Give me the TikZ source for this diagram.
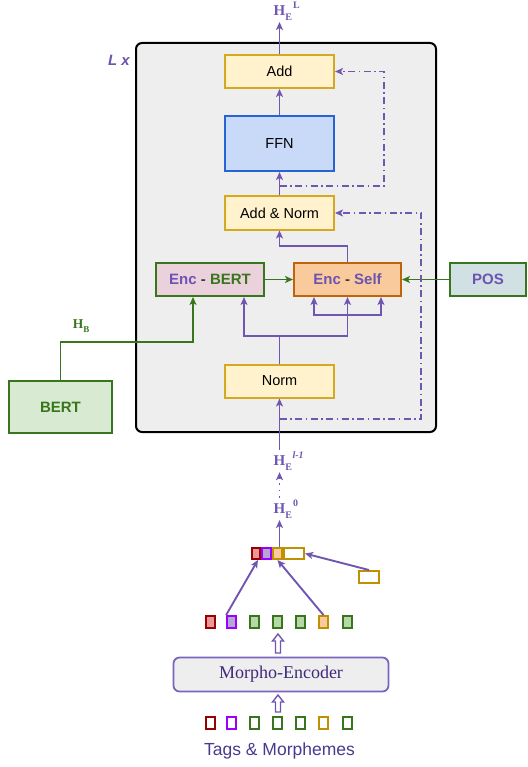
\documentclass[tikz,border=0pt]{standalone}
\usepackage{fontspec}
\setmainfont{Liberation Serif}
\setsansfont{Liberation Sans}
\usetikzlibrary{arrows.meta,calc}
\definecolor{lineP}{RGB}{112,86,176}
\definecolor{txtP}{RGB}{108,84,176}
\definecolor{grn}{RGB}{56,118,29}
\definecolor{ylwF}{RGB}{255,242,204}
\definecolor{ylwD}{RGB}{212,168,32}
\definecolor{ffnF}{RGB}{201,218,248}
\definecolor{ffnD}{RGB}{38,100,214}
\definecolor{encbF}{RGB}{234,209,220}
\definecolor{encsF}{RGB}{249,203,156}
\definecolor{encsD}{RGB}{190,100,10}
\definecolor{posF}{RGB}{208,224,227}
\definecolor{bertF}{RGB}{217,234,211}
\definecolor{bgG}{RGB}{238,238,238}
\definecolor{morphoD}{RGB}{122,100,190}
\definecolor{morphoT}{RGB}{62,42,122}
\definecolor{tagsT}{RGB}{74,58,143}
\definecolor{redF}{RGB}{234,153,153}
\definecolor{redD}{RGB}{153,0,0}
\definecolor{purF}{RGB}{180,167,214}
\definecolor{purD}{RGB}{153,0,255}
\definecolor{grnF}{RGB}{182,215,168}
\definecolor{orgF}{RGB}{249,203,156}
\definecolor{orgD}{RGB}{191,144,0}
\definecolor{darkT}{RGB}{60,60,60}
\begin{document}
\begin{tikzpicture}[x=1pt,y=-1pt,
  box/.style={draw, line width=2pt, inner sep=0pt, font=\sffamily\fontsize{14.5}{17}\selectfont, text=black},
  ylw/.style={box, fill=ylwF, draw=ylwD, minimum width=109pt, minimum height=33pt},
  bbox/.style={box, font=\sffamily\bfseries\fontsize{15}{17}\selectfont, text=txtP},
  arr/.style={-{Stealth[length=8pt,width=7pt,inset=2pt]}, line width=1.9pt, draw=lineP},
  plain/.style={line width=1.9pt, draw=lineP},
  garr/.style={arr, draw=grn},
  dd/.style={arr, dash pattern=on 7pt off 3.5pt on 1.5pt off 3.5pt},
  hlab/.style={inner sep=1.5pt, text=lineP, font=\bfseries\fontsize{15}{17}\selectfont},
  cell/.style={line width=1.8pt, inner sep=0pt, minimum height=11pt},
  sq/.style={line width=1.8pt, inner sep=0pt, minimum width=9pt, minimum height=12pt},
  hollow/.style={draw=lineP, fill=white, line width=1.4pt, line join=miter}
]
\useasboundingbox (0,0) rectangle (527,767);

% frame
\node[draw=black, line width=2pt, rounded corners=6pt, fill=bgG, minimum width=300pt, minimum height=389pt, inner sep=0pt] (frame) at (286,237.5) {};
\node[font=\sffamily\bfseries\itshape\fontsize{15}{17}\selectfont, text=txtP] (lx) at (119,60) {L x};

% boxes
\node[ylw] (add) at (279.5,71.5) {Add};
\node[box, fill=ffnF, draw=ffnD, minimum width=109pt, minimum height=55pt] (ffn) at (279.5,143.5) {FFN};
\node[ylw] (addnorm) at (279.5,213) {Add \& Norm};
\node[bbox, fill=encbF, draw=grn, minimum width=108pt, minimum height=33pt] (encb) at (210,279.5) {Enc {\color{darkT}-} {\color{grn}BERT}};
\node[bbox, fill=encsF, draw=encsD, minimum width=107pt, minimum height=33pt] (encs) at (347.5,279.5) {Enc {\color{darkT}-} Self};
\node[bbox, fill=posF, draw=grn, minimum width=76pt, minimum height=33pt] (pos) at (488,279.5) {POS};
\node[bbox, fill=bertF, draw=grn, text=grn, minimum width=103pt, minimum height=52pt] (bert) at (60.5,407) {BERT};
\node[ylw] (norm) at (279.5,381) {Norm};

% top output
\node[hlab] (heL) at (279.5,11) {H\rlap{\raisebox{-5pt}{\fontsize{10}{10}\selectfont E}\hspace{1pt}\raisebox{7pt}{\fontsize{10}{10}\selectfont L}}};
\draw[arr] (add.north) -- (heL.south);
\draw[arr] (ffn.north) -- (add.south);
\draw[arr] (addnorm.north) -- (ffn.south);
\draw[arr] (encs.north) -- ++(0,-16) -| (addnorm.south);

% green links
\draw[garr] (encb.east) -- (encs.west);
\draw[garr] (pos.west) -- (encs.east);
\coordinate (hb) at (193,342);
\draw[garr] (bert.north) |- (hb) -- (hb |- encb.south);
\node[inner sep=1pt, text=grn, font=\bfseries\fontsize{13.5}{15}\selectfont] (hbl) at (78,326) {H\rlap{\raisebox{-4pt}{\fontsize{9}{9}\selectfont B}}};

% norm to encoders
\coordinate (nj) at (279.5,336);
\draw[plain] (norm.north) -- (nj);
\draw[arr] (nj) -| ([xshift=34pt]encb.south);
\draw[arr] (nj) -| (encs.south);
\coordinate (bk) at (347.5,315);
\draw[arr] (bk) -| ([xshift=-33.5pt]encs.south);
\draw[arr] (bk) -| ([xshift=33.5pt]encs.south);

% residuals
\coordinate (r1) at (279.5,419);
\coordinate (r1c) at (421,419);
\draw[dd] (r1) -- (r1c) |- (addnorm.east);
\coordinate (r2) at (279.5,186);
\coordinate (r2c) at (384,186);
\draw[dd] (r2) -- (r2c) |- (add.east);

% bottom labels
\node[hlab] (hel1) at (279.5,461) {H\rlap{\raisebox{-5pt}{\fontsize{10}{10}\selectfont E}\hspace{0.5pt}\raisebox{7pt}{\fontsize{10}{10}\selectfont\itshape l-1}}};
\draw[arr] (hel1.north) -- (norm.south);
\node[hlab] (he0) at (279.5,509) {H\rlap{\raisebox{-5pt}{\fontsize{10}{10}\selectfont E}\hspace{1pt}\raisebox{7pt}{\fontsize{10}{10}\selectfont 0}}};
\draw[arr, dash pattern=on 1.5pt off 5pt] (he0.north) -- (hel1.south);

% concatenated vector
\node[cell, fill=redF, draw=redD, minimum width=8.2pt] (c1) at (256,553.5) {};
\node[cell, fill=purF, draw=purD, minimum width=9.2pt] (c2) at (266.5,553.5) {};
\node[cell, fill=orgF, draw=orgD, minimum width=9.2pt] (c3) at (277.5,553.5) {};
\node[cell, fill=white, draw=orgD, minimum width=20.2pt] (c4) at (294,553.5) {};
\node[cell, fill=white, draw=orgD, minimum width=20.2pt, minimum height=12.2pt] (small) at (369,577) {};
\draw[arr] (he0.south |- c3.north) -- (he0.south);
\draw[arr] (small.north) -- (c4.east);

% top squares
\node[sq, fill=redF, draw=redD] (s1) at (210.5,622) {};
\node[sq, fill=purF, draw=purD] (s2) at (231.5,622) {};
\node[sq, fill=grnF, draw=grn] (s3) at (254.5,622) {};
\node[sq, fill=grnF, draw=grn] (s4) at (277.5,622) {};
\node[sq, fill=grnF, draw=grn] (s5) at (300.5,622) {};
\node[sq, fill=orgF, draw=orgD] (s6) at (323.5,622) {};
\node[sq, fill=grnF, draw=grn] (s7) at (347.5,622) {};
\draw[arr] (s2.north west) -- ([xshift=2pt]c1.south);
\draw[arr] (s6.north) -- (c3.south);

% morpho encoder
\node[draw=morphoD, fill=bgG, rounded corners=6pt, line width=1.8pt, minimum width=215pt, minimum height=34pt, inner sep=0pt, font=\fontsize{18}{20}\selectfont, text=morphoT] (morpho) at (281,674.5) {Morpho-Encoder};
\draw[hollow] (275.5,653) -- (275.5,641) -- (272.5,641) -- (278,634) -- (283.5,641) -- (280.5,641) -- (280.5,653) -- cycle;
\draw[hollow] (275.5,712) -- (275.5,702) -- (272.5,702) -- (278,695) -- (283.5,702) -- (280.5,702) -- (280.5,712) -- cycle;

% bottom squares
\node[sq, fill=white, draw=redD] (b1) at (210.5,723) {};
\node[sq, fill=white, draw=purD] (b2) at (231.5,723) {};
\node[sq, fill=white, draw=grn] (b3) at (254.5,723) {};
\node[sq, fill=white, draw=grn] (b4) at (277.5,723) {};
\node[sq, fill=white, draw=grn] (b5) at (300.5,723) {};
\node[sq, fill=white, draw=orgD] (b6) at (323.5,723) {};
\node[sq, fill=white, draw=grn] (b7) at (347.5,723) {};

\node[font=\sffamily\fontsize{17.5}{20}\selectfont, text=tagsT] (tags) at (279.5,751) {Tags \& Morphemes};
\end{tikzpicture}
\end{document}
